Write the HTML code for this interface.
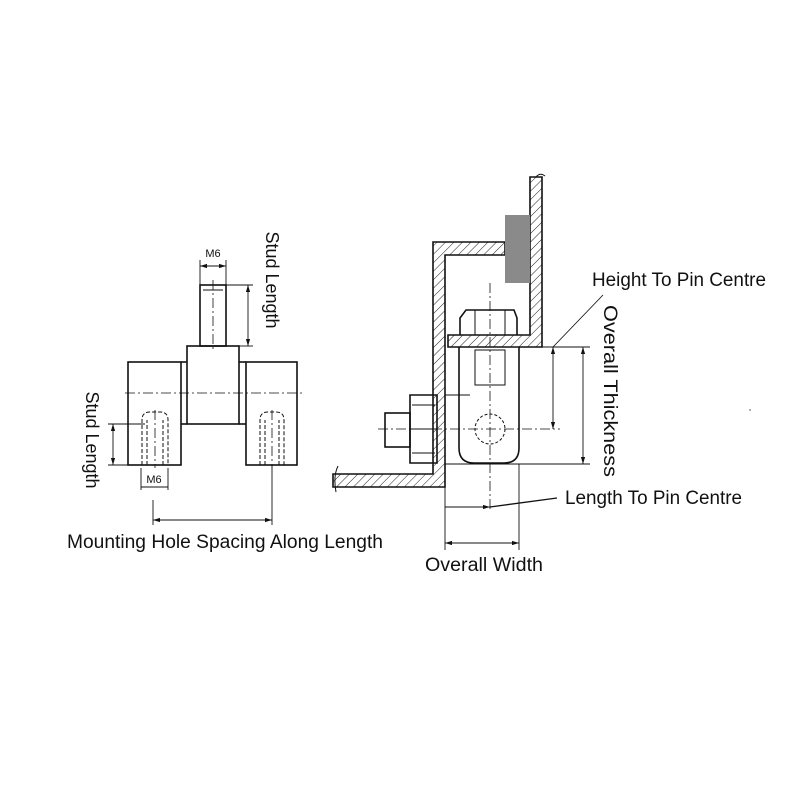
<!DOCTYPE html>
<html><head><style>body{margin:0;background:#fff}svg{display:block}text{font-family:"Liberation Sans",sans-serif;fill:#111}</style></head><body>
<svg width="800" height="800" viewBox="0 0 800 800" xmlns="http://www.w3.org/2000/svg">
<defs>
<pattern id="h" width="6" height="6" patternUnits="userSpaceOnUse" patternTransform="rotate(45)"><line x1="0" y1="0" x2="0" y2="6" stroke="#222" stroke-width="1"/></pattern>
<marker id="a" viewBox="0 0 10 10" refX="10" refY="5" markerWidth="8" markerHeight="8" orient="auto-start-reverse"><path d="M0,2L10,5L0,8z" fill="#111"/></marker>
</defs>
<g stroke="#111" fill="none" stroke-width="1.6">
<!-- LEFT DRAWING -->
<rect x="200" y="285" width="26" height="61"/>
<line x1="203" y1="290" x2="223" y2="290" stroke-width="1"/>
<rect x="187" y="346" width="52" height="78"/>
<rect x="128" y="362" width="53" height="103"/>
<rect x="246" y="362" width="51" height="103"/>
<line x1="181" y1="362" x2="187" y2="362"/><line x1="181" y1="424" x2="187" y2="424"/>
<line x1="239" y1="362" x2="246" y2="362"/><line x1="239" y1="424" x2="246" y2="424"/>
<g stroke-width="1" stroke-dasharray="4,2">
<path d="M142,465V420Q142,412 150,412H160Q168,412 168,420V465"/>
<path d="M147,465V420M163,465V420"/>
<path d="M260,465V420Q260,412 268,412H276Q284,412 284,420V465"/>
<path d="M265,465V420M279,465V420"/>
</g>
<g stroke-width="0.8" stroke-dasharray="10,3,2,3">
<line x1="125" y1="393" x2="302" y2="393"/>
<line x1="213" y1="280" x2="213" y2="352"/>
<line x1="155" y1="410" x2="155" y2="468"/>
<line x1="272" y1="410" x2="272" y2="468"/>
</g>
<g stroke-width="0.9">
<line x1="200" y1="260" x2="200" y2="285"/><line x1="226" y1="260" x2="226" y2="285"/>
<line x1="200" y1="266" x2="226" y2="266" marker-start="url(#a)" marker-end="url(#a)"/>
<line x1="226" y1="285" x2="253" y2="285"/><line x1="239" y1="346" x2="253" y2="346"/>
<line x1="248" y1="285" x2="248" y2="346" marker-start="url(#a)" marker-end="url(#a)"/>
<line x1="108" y1="424" x2="145" y2="424"/><line x1="108" y1="465" x2="128" y2="465"/>
<line x1="113" y1="424" x2="113" y2="465" marker-start="url(#a)" marker-end="url(#a)"/>
<line x1="141" y1="468" x2="141" y2="490"/><line x1="168" y1="468" x2="168" y2="490"/>
<line x1="141" y1="487" x2="168" y2="487"/>
<line x1="153" y1="500" x2="153" y2="525"/><line x1="272" y1="465" x2="272" y2="525"/>
<line x1="153" y1="520" x2="272" y2="520" marker-start="url(#a)" marker-end="url(#a)"/>
</g>
<!-- RIGHT DRAWING -->
<path d="M433,474V242H505V255H445V487H333V474Z" fill="url(#h)"/>
<path d="M530,177H542V347H448V335H530Z" fill="url(#h)"/>
<path d="M338,466Q333,476 336,492M536,177Q540,172 545,176" stroke-width="1"/>
<rect x="505" y="215" width="25" height="68" fill="#8a8a8a" stroke="none"/>
<path d="M460,335V318L466,310H514L517,318V335"/>
<line x1="475" y1="310" x2="475" y2="335" stroke-width="1"/><line x1="505" y1="310" x2="505" y2="335" stroke-width="1"/>
<path d="M459,347V448Q459,463 474,463H504Q519,463 519,448V347"/>
<rect x="475" y="350" width="30" height="35" stroke-width="1"/>
<circle cx="490" cy="429" r="15" stroke-width="1" stroke-dasharray="3,2"/>
<path d="M410,395H437V463H410Z"/>
<path d="M412,405H435M412,453H435M410,429H437" stroke-width="1"/>
<rect x="385" y="413" width="25" height="34"/>
<g stroke-width="0.8" stroke-dasharray="10,3,2,3">
<line x1="378" y1="429" x2="560" y2="429"/>
<line x1="490" y1="283" x2="490" y2="510"/>
</g>
<g stroke-width="0.9">
<line x1="542" y1="347" x2="590" y2="347"/><line x1="445" y1="464" x2="590" y2="464"/>
<line x1="445" y1="395" x2="470" y2="395"/>
<line x1="553" y1="347" x2="553" y2="429" marker-start="url(#a)" marker-end="url(#a)"/>
<line x1="583" y1="347" x2="583" y2="464" marker-start="url(#a)" marker-end="url(#a)"/>
<line x1="553" y1="347" x2="603" y2="295"/>
<line x1="445" y1="487" x2="445" y2="550"/><line x1="519" y1="464" x2="519" y2="550"/>
<line x1="445" y1="507" x2="490" y2="507" marker-end="url(#a)"/>
<line x1="490" y1="507" x2="557" y2="498" stroke-width="1.3"/>
<line x1="445" y1="543" x2="519" y2="543" marker-start="url(#a)" marker-end="url(#a)"/>
</g>
</g>
<circle cx="750" cy="410" r="1" fill="#999"/>
<text x="213" y="257" font-size="11" text-anchor="middle">M6</text>
<text x="154" y="483" font-size="11" text-anchor="middle">M6</text>
<text transform="translate(266,280) rotate(90)" font-size="18" text-anchor="middle">Stud Length</text>
<text transform="translate(86,440) rotate(90)" font-size="18" text-anchor="middle">Stud Length</text>
<text x="67" y="548" font-size="19" textLength="316" lengthAdjust="spacingAndGlyphs">Mounting Hole Spacing Along Length</text>
<text x="592" y="286" font-size="19" textLength="174" lengthAdjust="spacingAndGlyphs">Height To Pin Centre</text>
<text transform="translate(604,391) rotate(90)" font-size="19" text-anchor="middle" textLength="172" lengthAdjust="spacingAndGlyphs">Overall Thickness</text>
<text x="565" y="504" font-size="19" textLength="177" lengthAdjust="spacingAndGlyphs">Length To Pin Centre</text>
<text x="425" y="571" font-size="19" textLength="118" lengthAdjust="spacingAndGlyphs">Overall Width</text>
</svg>
</body></html>
